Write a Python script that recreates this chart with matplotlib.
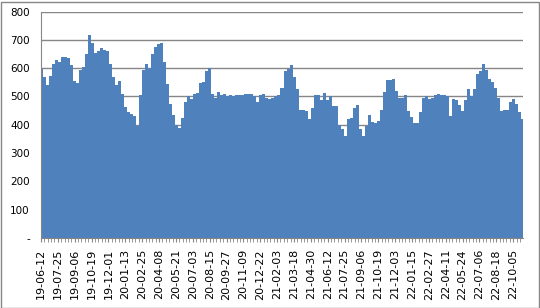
import matplotlib.pyplot as plt
import numpy as np
from matplotlib.ticker import MultipleLocator
from matplotlib.patches import Rectangle

# category axis: one category per trading day, label every 43 categories
n_days = 1230
label_step = 43
tick_labels = ["19-06-12", "19-07-25", "19-09-06", "19-10-19", "19-12-01",
               "20-01-13", "20-02-25", "20-04-08", "20-05-21", "20-07-03",
               "20-08-15", "20-09-27", "20-11-09", "20-12-22", "21-02-03",
               "21-03-18", "21-04-30", "21-06-12", "21-07-25", "21-09-06",
               "21-10-19", "21-12-03", "22-01-15", "22-02-27", "22-04-11",
               "22-05-24", "22-07-06", "22-08-18", "22-10-05"]

# values, evenly spaced over the whole period
values = [598, 570, 540, 572, 615, 628, 620, 640, 640, 636,
          610, 555, 548, 595, 605, 650, 718, 690, 652, 661,
          672, 665, 660, 615, 568, 540, 555, 510, 462, 445,
          438, 430, 395, 505, 595, 615, 600, 650, 675, 685,
          688, 620, 545, 475, 435, 398, 388, 425, 482, 502,
          492, 510, 512, 546, 550, 590, 600, 510, 495, 515,
          506, 508, 502, 504, 500, 505, 504, 506, 510, 510,
          507, 503, 482, 505, 510, 494, 490, 494, 502, 504,
          530, 590, 597, 612, 570, 525, 451, 453, 450, 421,
          460, 505, 504, 486, 512, 488, 502, 465, 466, 400,
          385, 362, 420, 424, 458, 469, 386, 360, 394, 435,
          410, 406, 412, 451, 515, 558, 558, 560, 520, 495,
          494, 505, 448, 427, 406, 406, 445, 495, 500, 490,
          496, 505, 510, 504, 504, 502, 430, 490, 486, 471,
          450, 486, 525, 500, 526, 578, 590, 614, 595, 560,
          551, 531, 495, 447, 451, 451, 480, 492, 475, 445,
          420]

grid_col = "#868686"

fig = plt.figure(figsize=(5.4, 3.08), dpi=100)
ax = fig.add_axes([41/540, 1 - 238/308, (523 - 41)/540, (238 - 11.5)/308])

x = np.linspace(0, n_days - 1, len(values))
ax.fill_between(x, values, 0, step="mid", color="#4F81BD", lw=0)

ax.set_xlim(0, n_days - 1)
ax.set_ylim(0, 800)
ax.set_yticks(range(0, 801, 100))
ax.set_yticklabels(["-"] + [str(v) for v in range(100, 801, 100)])
ax.yaxis.grid(True, color=grid_col, lw=1)
ax.set_axisbelow(True)

ax.set_xticks(np.arange(len(tick_labels)) * label_step)
ax.set_xticklabels(tick_labels, rotation=90)
ax.xaxis.set_minor_locator(MultipleLocator(8.6))

ax.tick_params(axis="y", length=0, pad=8, labelsize=7.5)
ax.tick_params(axis="x", which="both", length=3, color=grid_col, pad=5, labelsize=8)

for s in ["top", "right"]:
    ax.spines[s].set_visible(False)
for s in ["left", "bottom"]:
    ax.spines[s].set_color(grid_col)

fig.patches.append(Rectangle((0.5/540, 0.5/308), 538/540, 306/308, transform=fig.transFigure,
                             fill=False, ec=grid_col, lw=1))

fig.savefig("out.png", dpi=100)
